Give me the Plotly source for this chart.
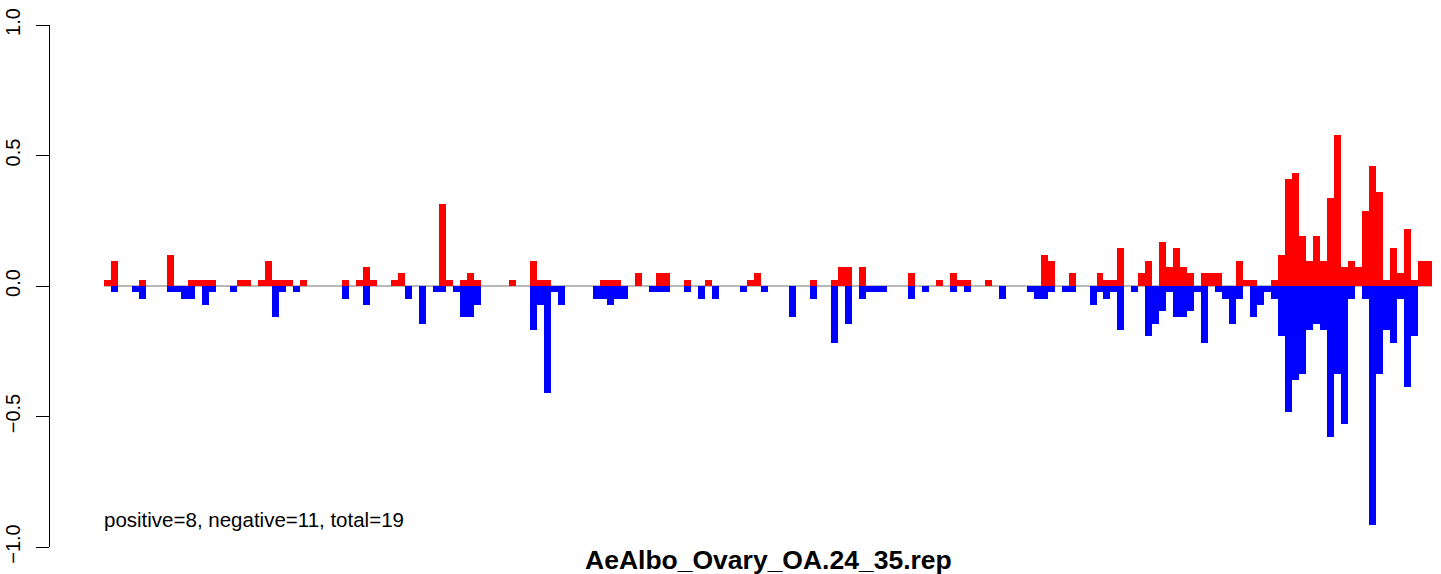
import plotly.graph_objects as go

# ---- data ----
n_bins = 190

pos_bins = [0, 1, 5, 9, 12, 13, 14, 15, 19, 20,
            22, 23, 24, 25, 26, 28, 34, 36, 37, 38,
            41, 42, 48, 49, 51, 52, 53, 58, 61, 62,
            63, 71, 72, 73, 76, 79, 80, 83, 86, 92,
            93, 101, 104, 105, 106, 108, 115, 119, 121, 122,
            123, 126, 134, 135, 138, 142, 143, 144, 145, 148,
            149, 151, 152, 153, 154, 155, 157, 158, 159, 162,
            163, 164, 167, 168, 169, 170, 171, 172, 173, 174,
            175, 176, 177, 178, 179, 180, 181, 182, 183, 184,
            185, 186, 187, 188, 189]
pos_vals = [0.024, 0.096, 0.024, 0.120, 0.024, 0.024, 0.024, 0.024, 0.024, 0.024,
            0.024, 0.096, 0.024, 0.024, 0.024, 0.024, 0.024, 0.024, 0.072, 0.024,
            0.024, 0.048, 0.313, 0.024, 0.024, 0.048, 0.024, 0.024, 0.096, 0.024,
            0.024, 0.024, 0.024, 0.024, 0.048, 0.048, 0.048, 0.024, 0.024, 0.024,
            0.048, 0.024, 0.024, 0.072, 0.072, 0.072, 0.048, 0.024, 0.048, 0.024,
            0.024, 0.024, 0.120, 0.096, 0.048, 0.048, 0.024, 0.024, 0.145, 0.048,
            0.096, 0.169, 0.072, 0.145, 0.072, 0.048, 0.048, 0.048, 0.048, 0.096,
            0.024, 0.024, 0.024, 0.120, 0.410, 0.434, 0.193, 0.096, 0.193, 0.096,
            0.337, 0.578, 0.072, 0.096, 0.072, 0.289, 0.458, 0.361, 0.024, 0.145,
            0.048, 0.217, 0.024, 0.096, 0.096]

neg_bins = [1, 4, 5, 9, 10, 11, 12, 14, 15, 18,
            24, 25, 27, 34, 37, 43, 45, 47, 48, 50,
            51, 52, 53, 61, 62, 63, 64, 65, 70, 71,
            72, 73, 74, 78, 79, 80, 83, 85, 87, 91,
            94, 98, 101, 104, 106, 108, 109, 110, 111, 115,
            117, 121, 123, 128, 132, 133, 134, 135, 137, 138,
            141, 142, 143, 144, 145, 147, 149, 150, 151, 152,
            153, 154, 155, 156, 157, 159, 160, 161, 162, 164,
            165, 166, 167, 168, 169, 170, 171, 172, 173, 174,
            175, 176, 177, 178, 180, 181, 182, 183, 184, 185,
            186, 187]
neg_vals = [-0.024, -0.024, -0.048, -0.024, -0.024, -0.048, -0.048, -0.072, -0.024, -0.024,
            -0.120, -0.024, -0.024, -0.048, -0.072, -0.048, -0.145, -0.024, -0.024, -0.024,
            -0.120, -0.120, -0.072, -0.169, -0.072, -0.410, -0.024, -0.072, -0.048, -0.048,
            -0.072, -0.048, -0.048, -0.024, -0.024, -0.024, -0.024, -0.048, -0.048, -0.024,
            -0.024, -0.120, -0.048, -0.217, -0.145, -0.048, -0.024, -0.024, -0.024, -0.048,
            -0.024, -0.024, -0.024, -0.048, -0.024, -0.048, -0.048, -0.024, -0.024, -0.024,
            -0.072, -0.024, -0.048, -0.024, -0.169, -0.024, -0.193, -0.145, -0.096, -0.024,
            -0.120, -0.120, -0.096, -0.024, -0.217, -0.024, -0.048, -0.145, -0.048, -0.120,
            -0.072, -0.024, -0.048, -0.193, -0.482, -0.361, -0.337, -0.169, -0.145, -0.169,
            -0.578, -0.337, -0.530, -0.048, -0.048, -0.916, -0.337, -0.169, -0.217, -0.048,
            -0.386, -0.193]

y_ticks = [-1.0, -0.5, 0.0, 0.5, 1.0]
y_tick_labels = ["\u22121.0", "\u22120.5", "0.0", "0.5", "1.0"]

title_text = "AeAlbo_Ovary_OA.24_35.rep"
summary_text = "positive=8, negative=11, total=19"

FONT = "Liberation Sans, Arial, Helvetica, sans-serif"

fig = go.Figure()
fig.add_trace(go.Bar(x=pos_bins, y=pos_vals, width=1.0,
                     marker=dict(color="#ff0000", line=dict(width=0)),
                     showlegend=False, hoverinfo="x+y"))
fig.add_trace(go.Bar(x=neg_bins, y=neg_vals, width=1.0,
                     marker=dict(color="#0000ff", line=dict(width=0)),
                     showlegend=False, hoverinfo="x+y"))

# zero reference line spanning the bins
fig.add_shape(type="line", xref="x", yref="y",
              x0=-0.5, x1=n_bins - 0.5, y0=0, y1=0,
              line=dict(color="#a0a0a0", width=1.5), layer="below")

L, R, T, B = 50, 9, 25, 27
W, H = 1441, 574
px_per_bin = (1432 - 104) / n_bins
x_left = -0.5 - (104 - L) / px_per_bin

fig.update_layout(
    width=W, height=H,
    margin=dict(l=L, r=R, t=T, b=B, pad=0, autoexpand=False),
    plot_bgcolor="white", paper_bgcolor="white",
    barmode="overlay", bargap=0,
    font=dict(family=FONT, color="black"),
    xaxis=dict(range=[x_left, n_bins - 0.5], visible=False, showgrid=False,
               zeroline=False, automargin=False),
    yaxis=dict(range=[-1, 1], tickvals=y_ticks, ticktext=y_tick_labels,
               tickangle=-90, ticks="outside", ticklen=13, tickwidth=1,
               tickcolor="black", showline=True, linecolor="black",
               linewidth=1, showgrid=False, zeroline=False, automargin=False,
               tickfont=dict(family=FONT, size=20, color="black"),
               ticklabelstandoff=8),
)

pw = W - L - R
ph = H - T - B
fig.add_annotation(text="<b>" + title_text + "</b>", xref="paper", yref="paper",
                   x=(768 - L) / pw, y=(H - B - 560) / ph,
                   xanchor="center", yanchor="middle", showarrow=False,
                   font=dict(family=FONT, size=26.5, color="black"))
fig.add_annotation(text=summary_text, xref="paper", yref="paper",
                   x=(102 - L) / pw, y=(H - B - 519) / ph,
                   xanchor="left", yanchor="middle", showarrow=False,
                   font=dict(family=FONT, size=20.5, color="black"))

fig.write_html("out.html", config={"displayModeBar": False},
               post_script="document.body.style.margin='0';")
